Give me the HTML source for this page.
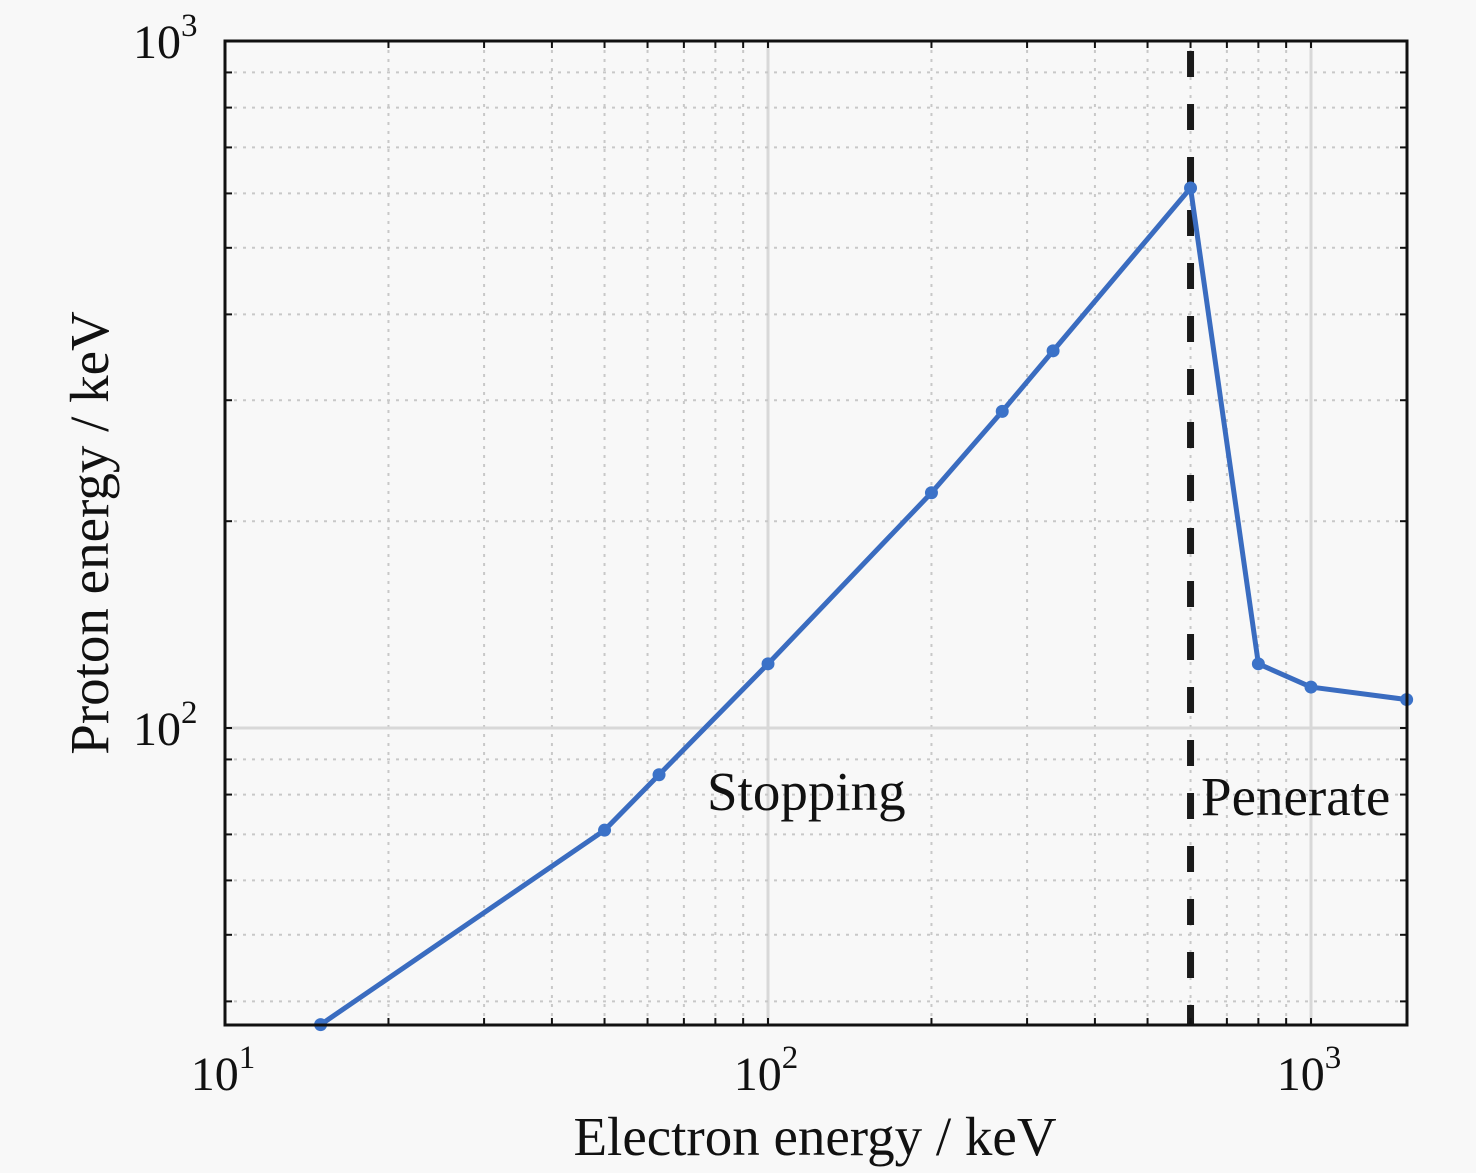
<!DOCTYPE html>
<html><head><meta charset="utf-8"><style>
html,body{margin:0;padding:0;background:#fff;}
svg{display:block;font-family:"Liberation Serif",serif;}
</style></head><body>
<svg id="chart" width="1476" height="1173" viewBox="0 0 1476 1173" xmlns="http://www.w3.org/2000/svg">
<rect x="0" y="0" width="1476" height="1173" fill="#f8f8f8"/>
<g id="grid"></g>
<g id="series"></g>
<g id="axes"></g>
<text x="707" y="810" font-size="55" fill="#111">Stopping</text>
<text x="1201" y="815" font-size="55" fill="#111">Penerate</text>
<text x="815" y="1155" font-size="55" text-anchor="middle" fill="#111">Electron energy / keV</text>
<text transform="translate(108,533) rotate(-90)" font-size="55" text-anchor="middle" fill="#111">Proton energy / keV</text>
</svg>
<script>
const electronEnergy = [15, 50, 63, 100, 200, 270, 335, 600, 800, 1000, 1500];
const protonEnergy = [37, 71, 85.5, 124, 220, 289, 354, 611, 124, 114.7, 110];
const boundaryEnergy = [600];
const xTickExps = [1, 2, 3];
const yTickExps = [2, 3];

const L=225,R=1407,T=41,B=1025;
const xDec=543,yDec=687;
function X(v){return L+(Math.log10(v)-1)*xDec;}
function Y(v){return T+(3-Math.log10(v))*yDec;}
const NS="http://www.w3.org/2000/svg";
function mk(tag,attrs,parent){const e=document.createElementNS(NS,tag);for(const k in attrs)e.setAttribute(k,attrs[k]);parent.appendChild(e);return e;}
const grid=document.getElementById('grid'),series=document.getElementById('series'),axes=document.getElementById('axes');
mk('rect',{x:L,y:T,width:R-L,height:B-T,fill:'#f8f8f8'},grid);
for(let d=10;d<=1000;d*=10){for(let m=1;m<=9;m++){const v=d*m;if(v<10||v>1500)continue;const x=X(v);if(x<=L+1||x>=R-1)continue;
 const major=(m===1);
 const s=mk('line',{x1:x,y1:T,x2:x,y2:B,stroke:major?'#d8d8d8':'#c8c8c8','stroke-width':major?3:2,'stroke-dasharray':major?'none':'3,6'},grid);
 
 const t1=mk('line',{x1:x,y1:B,x2:x,y2:B-7,stroke:'#111','stroke-width':2},axes);
 
 mk('line',{x1:x,y1:T,x2:x,y2:T+7,stroke:'#111','stroke-width':2},axes);
}}
for(let d=10;d<=1000;d*=10){for(let m=1;m<=9;m++){const v=d*m;const y=Y(v);if(y<=T+1||y>=B-1)continue;
 const major=(m===1);
 const s=mk('line',{x1:L,y1:y,x2:R,y2:y,stroke:major?'#d8d8d8':'#c8c8c8','stroke-width':major?3:2,'stroke-dasharray':major?'none':'3,6'},grid);
 
 const t1=mk('line',{x1:L,y1:y,x2:L+7,y2:y,stroke:'#111','stroke-width':2},axes);
 
 mk('line',{x1:R,y1:y,x2:R-7,y2:y,stroke:'#111','stroke-width':2},axes);
}}
const fr=mk('rect',{x:L,y:T,width:R-L,height:B-T,fill:'none',stroke:'#111','stroke-width':3},axes);

xTickExps.forEach(e=>{const x=X(Math.pow(10,e));
 const t=mk('text',{x:x-2,y:1090,'font-size':48,'text-anchor':'middle',fill:'#111'},axes);
 
 t.innerHTML='10<tspan dy="-22" font-size="33">'+e+'</tspan>';});
yTickExps.forEach(e=>{const y=Y(Math.pow(10,e));
 const t=mk('text',{x:133,y:y+17,'font-size':48,fill:'#111'},axes);
 
 t.innerHTML='10<tspan dy="-22" font-size="33">'+e+'</tspan>';});
boundaryEnergy.forEach(v=>{const x=X(v);
 const l=mk('line',{x1:x,y1:T+10,x2:x,y2:B,stroke:'#1a1a1a','stroke-width':7,'stroke-dasharray':'26,27'},series);
 });
const pts=electronEnergy.map((v,i)=>X(v)+','+Y(protonEnergy[i])).join(' ');
const pl=mk('polyline',{points:pts,fill:'none',stroke:'#3a6cc0','stroke-width':5,'stroke-linejoin':'round'},series);

electronEnergy.forEach((v,i)=>{
 const c=mk('circle',{cx:X(v),cy:Y(protonEnergy[i]),r:6.5,fill:'#3b72c8'},series);
 });
</script>
</body></html>
